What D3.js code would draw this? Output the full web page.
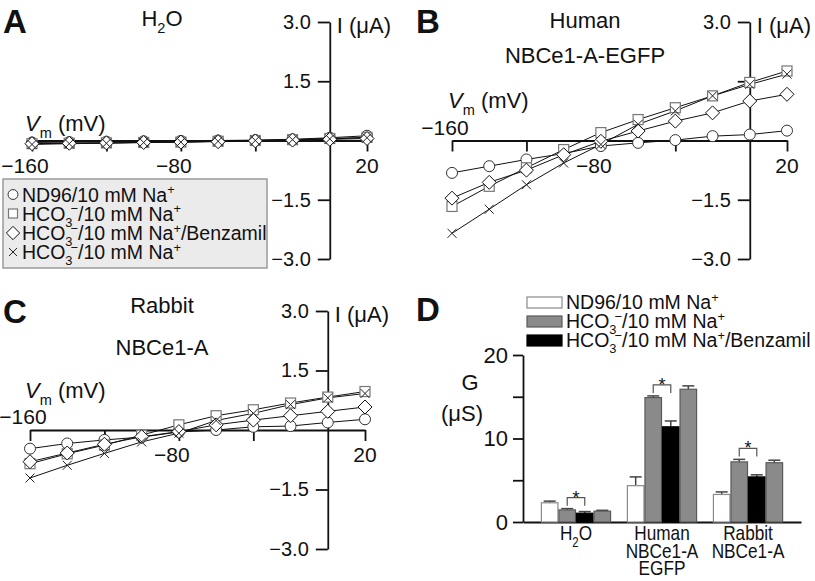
<!DOCTYPE html>
<html><head><meta charset="utf-8">
<script src="https://cdn.jsdelivr.net/npm/d3@7"></script>
<style>
html,body{margin:0;padding:0;background:#fff;}
svg text{font-family:"Liberation Sans",Arial,Helvetica,sans-serif;fill:#111;}
</style></head>
<body><svg id="c" width="815" height="581"></svg>
<script>
// ---------------- data ----------------
const voltages = [-160,-140,-120,-100,-80,-60,-40,-20,0,20];
const seriesNames = ["ND96/10 mM Na+","HCO3-/10 mM Na+","HCO3-/10 mM Na+/Benzamil","HCO3-/10 mM Na+ (washout)"];
const symbolsOrder = ["circle","square","diamond","x"];
// Panel A: H2O (µA)
const A_circle  = [-0.05,-0.04,-0.03,-0.02,-0.01,0.00,0.01,0.03,0.07,0.12];
const A_square  = [-0.08,-0.07,-0.06,-0.05,-0.04,-0.02,0.00,0.02,0.05,0.08];
const A_diamond = [-0.08,-0.07,-0.06,-0.05,-0.04,-0.03,-0.01,0.01,0.03,0.05];
const A_x       = [-0.10,-0.08,-0.07,-0.05,-0.04,-0.02,0.00,0.02,0.04,0.07];
// Panel B: Human NBCe1-A-EGFP
const B_circle  = [-0.82,-0.65,-0.48,-0.33,-0.14,-0.06,0.01,0.11,0.15,0.25];
const B_square  = [-1.67,-1.16,-0.69,-0.23,0.20,0.53,0.83,1.13,1.47,1.76];
const B_diamond = [-1.46,-1.06,-0.75,-0.36,-0.02,0.24,0.49,0.70,1.00,1.17];
const B_x       = [-2.35,-1.74,-1.12,-0.57,-0.10,0.41,0.75,1.13,1.42,1.68];
// Panel C: Rabbit NBCe1-A
const C_circle  = [-0.47,-0.34,-0.25,-0.18,-0.05,0.00,0.08,0.10,0.19,0.27];
const C_square  = [-0.85,-0.60,-0.38,-0.13,0.13,0.36,0.51,0.68,0.83,0.97];
const C_diamond = [-0.80,-0.58,-0.36,-0.17,-0.04,0.13,0.25,0.36,0.47,0.58];
const C_x       = [-1.21,-0.89,-0.59,-0.30,-0.08,0.24,0.42,0.64,0.81,0.92];
const yTicksIV = [3.0,1.5,-1.5,-3.0];
const xTicksIV = [-160,-120,-80,-40,20];
const xLabelsIV = [-160,-80,20];
// Panel D: conductance (µS)
const groups = ["H2O","Human NBCe1-A EGFP","Rabbit NBCe1-A"];
const conditions = ["ND96","HCO3","HCO3+Benzamil","HCO3 washout"];
const G_means = [[2.3,1.45,1.05,1.3],[4.35,14.9,11.4,15.9],[3.3,7.2,5.4,7.1]];
const G_errs  = [[0.2,0.15,0.2,0.1],[1.05,0.2,0.7,0.4],[0.3,0.3,0.25,0.3]];
const dTicks = [0,5,10,15,20];
const dLabels = [0,10,20];
// --------------------------------------
const svg = d3.select("#c");
const FS = 20;

function rich(textSel, segs, fs){
  let cur = 0;
  segs.forEach(s=>{
    const off = s.sub ? fs*0.32 : s.sup ? -fs*0.38 : 0;
    const ts = textSel.append("tspan").text(s.t).attr("dy", off-cur);
    if (s.sub||s.sup) ts.attr("font-size", fs*0.66);
    if (s.dx) ts.attr("dx", s.dx);
    if (s.it) ts.attr("font-style","italic");
    cur = off;
  });
  return textSel;
}
const hco = (fs)=>[{t:"HCO"},{t:"3",sub:true},{t:"\u2212",sup:true,dx:-2}];
const legSegs = (fs)=>[
  [{t:"ND96/10 mM Na"},{t:"+",sup:true}],
  [...hco(fs),{t:"/10 mM Na"},{t:"+",sup:true}],
  [...hco(fs),{t:"/10 mM Na"},{t:"+",sup:true},{t:"/Benzamil"}],
  [...hco(fs),{t:"/10 mM Na"},{t:"+",sup:true}]
];

function drawMarker(g, type, cx, cy, scale=1){
  if (type==="circle"){
    g.append("circle").attr("cx",cx).attr("cy",cy).attr("r",5.5*scale)
      .attr("fill","#fff").attr("stroke","#333").attr("stroke-width",1);
  } else if (type==="square"){
    const s=5*scale;
    g.append("rect").attr("x",cx-s).attr("y",cy-s).attr("width",2*s).attr("height",2*s)
      .attr("fill","#fff").attr("stroke","#777").attr("stroke-width",1.2);
  } else if (type==="diamond"){
    const s=7*scale;
    g.append("path").attr("d",`M${cx},${cy-s}L${cx+s},${cy}L${cx},${cy+s}L${cx-s},${cy}Z`)
      .attr("fill","#fff").attr("stroke","#111").attr("stroke-width",1);
  } else {
    const s=4.5*scale;
    g.append("path").attr("d",`M${cx-s},${cy-s}L${cx+s},${cy+s}M${cx-s},${cy+s}L${cx+s},${cy-s}`)
      .attr("fill","none").attr("stroke","#222").attr("stroke-width",1);
  }
}

function ivPanel(cfg){
  const g = svg.append("g");
  const x = d3.scaleLinear().domain([-160,20]).range(cfg.xr);
  const y = d3.scaleLinear().domain([-3,3]).range(cfg.yr);
  const ya = g.append("g").attr("transform",`translate(${x(0)},0)`)
    .call(d3.axisLeft(y).tickValues(yTicksIV).tickSize(12).tickSizeOuter(0).tickPadding(7)
      .tickFormat(d=> (cfg.hide15 && d===1.5) ? "" : d3.format(".1f")(d)));
  const xa = g.append("g").attr("transform",`translate(0,${y(0)})`)
    .call(d3.axisBottom(x).tickValues(xTicksIV).tickSize(11).tickSizeOuter(0).tickFormat(""));
  [ya,xa].forEach(a=>{
    a.attr("font-family",null).attr("font-size",FS);
    a.selectAll("path,line").attr("stroke","#111").attr("stroke-width",1.8);
    a.selectAll("text").attr("fill","#111");
  });
  xLabelsIV.forEach(v=>{
    const above = (v===-160 && cfg.labelAbove);
    g.append("text").attr("x", x(v) + (v<0?-7:0))
      .attr("y", above ? y(0)-6 : y(0)+32)
      .attr("text-anchor","middle").attr("font-size",21)
      .text(d3.format("d")(v));
  });
  g.append("text").attr("x",x(0)+7).attr("y",y(3)+11).attr("font-size",22).text("I (\u03bcA)");
  rich(g.append("text").attr("x",cfg.vm[0]).attr("y",cfg.vm[1]).attr("font-size",22),
       [{t:"V",it:true},{t:"m",sub:true},{t:" (mV)"}], 22);
  const line = d3.line().x((d,i)=>x(voltages[i])).y(d=>y(d));
  cfg.series.forEach((vals,si)=>{
    g.append("path").attr("d",line(vals)).attr("fill","none")
      .attr("stroke","#111").attr("stroke-width",1);
  });
  cfg.series.forEach((vals,si)=>{
    const mg = g.append("g");
    vals.forEach((v,i)=>drawMarker(mg, symbolsOrder[si], x(voltages[i]), y(v)));
  });
  cfg.title.forEach((segs,li)=>{
    rich(g.append("text").attr("x",cfg.tx).attr("y",cfg.ty[li]).attr("text-anchor","middle")
      .attr("font-size",22), segs, 22);
  });
  g.append("text").attr("x",cfg.letter[0]).attr("y",cfg.letter[1]).attr("font-size",33)
    .attr("font-weight","bold").text(cfg.id);
  return g;
}

ivPanel({id:"A", xr:[32,367], yr:[259,22], series:[A_circle,A_square,A_diamond,A_x],
  vm:[25,131], tx:162, ty:[26], title:[[{t:"H"},{t:"2",sub:true},{t:"O"}]], letter:[3,33]});
ivPanel({id:"B", xr:[452,787], yr:[259,22], series:[B_circle,B_square,B_diamond,B_x], hide15:true,
  labelAbove:true, vm:[448,108], tx:585, ty:[28,63], title:[[{t:"Human"}],[{t:"NBCe1-A-EGFP"}]], letter:[416,33]});
ivPanel({id:"C", xr:[30,365], yr:[549,311], series:[C_circle,C_square,C_diamond,C_x],
  labelAbove:true, vm:[25,398], tx:162, ty:[313,355], title:[[{t:"Rabbit"}],[{t:"NBCe1-A"}]], letter:[3,323]});

// Legend in panel A
{
  const lg = svg.append("g");
  lg.append("rect").attr("x",3).attr("y",179).attr("width",264).attr("height",89)
    .attr("fill","#ebebeb").attr("stroke","#9a9a9a").attr("stroke-width",1.5);
  const fs=19.5;
  const segs = legSegs(fs);
  const base = [201.5,220.5,240,259];
  segs.forEach((s,i)=>{
    drawMarker(lg, symbolsOrder[i], 13, base[i]-7, i===2?0.95:0.9);
    rich(lg.append("text").attr("x",22).attr("y",base[i]).attr("font-size",fs), s, fs);
  });
}

// Panel D
{
  const g = svg.append("g");
  const y = d3.scaleLinear().domain([0,20]).range([522,355]);
  const x0 = d3.scaleBand().domain(groups).range([523,801]).paddingInner(0.184).paddingOuter(0.208);
  const x1 = d3.scaleBand().domain(conditions).range([0,x0.bandwidth()]).padding(0);
  const fills = ["#fff","#8a8a8a","#000","#8a8a8a"];
  const strokes = ["#8a8a8a","#5a5a5a","#000","#5a5a5a"];
  const ya = g.append("g").attr("transform","translate(523,0)")
    .call(d3.axisLeft(y).tickValues(dTicks).tickSize(10).tickSizeOuter(0).tickPadding(5)
      .tickFormat(d=> dLabels.includes(d)? d : ""));
  const xa = g.append("g").attr("transform",`translate(0,${y(0)})`)
    .call(d3.axisBottom(x0).tickSize(0).tickSizeOuter(0).tickFormat(""));
  [ya,xa].forEach(a=>{
    a.attr("font-family",null).attr("font-size",22);
    a.selectAll("path,line").attr("stroke","#111").attr("stroke-width",1.8);
    a.selectAll("text").attr("fill","#111");
  });
  groups.forEach((gr,gi)=>{
    const gx = x0(gr);
    conditions.forEach((c,ci)=>{
      const bx = gx + x1(c), bw = x1.bandwidth();
      const m = G_means[gi][ci], e = G_errs[gi][ci];
      const cx = bx + bw/2;
      g.append("line").attr("x1",cx).attr("x2",cx).attr("y1",y(m)).attr("y2",y(m+e))
        .attr("stroke","#444").attr("stroke-width",1.5);
      g.append("line").attr("x1",cx-6).attr("x2",cx+6).attr("y1",y(m+e)).attr("y2",y(m+e))
        .attr("stroke","#444").attr("stroke-width",1.5);
      g.append("rect").attr("x",bx+0.5).attr("y",y(m)).attr("width",bw-1).attr("height",y(0)-y(m))
        .attr("fill",fills[ci]).attr("stroke",strokes[ci]).attr("stroke-width",1.2);
    });
    const c1 = gx + x1(conditions[1]) + x1.bandwidth()/2;
    const c2 = gx + x1(conditions[2]) + x1.bandwidth()/2;
    const top = Math.min(y(G_means[gi][1]+G_errs[gi][1]), y(G_means[gi][2]+G_errs[gi][2])) - 11;
    g.append("path").attr("d",`M${c1},${top+8}V${top}H${c2}V${top+8}`)
      .attr("fill","none").attr("stroke","#555").attr("stroke-width",1.2);
    g.append("text").attr("x",(c1+c2)/2).attr("y",top+6).attr("text-anchor","middle")
      .attr("font-size",18).text("*");
  });
  const lab = [
    [[{t:"H"},{t:"2",sub:true},{t:"O"}]],
    [[{t:"Human"}],[{t:"NBCe1-A"}],[{t:"EGFP"}]],
    [[{t:"Rabbit"}],[{t:"NBCe1-A"}]]
  ];
  groups.forEach((gr,gi)=>{
    lab[gi].forEach((segs,li)=>{
      const t = g.append("text")
        .attr("transform",`translate(${x0(gr)+x0.bandwidth()/2},${540+li*17.5}) scale(0.82,1)`)
        .attr("text-anchor","middle").attr("font-size",21);
      rich(t, segs, 21);
    });
  });
  g.append("text").attr("x",470).attr("y",390).attr("text-anchor","middle").attr("font-size",22).text("G");
  g.append("text").attr("x",462).attr("y",421).attr("text-anchor","middle").attr("font-size",22).text("(\u03bcS)");
  const fs=19.5;
  const segs = legSegs(fs).slice(0,3);
  const base=[309,328,347];
  segs.forEach((s,i)=>{
    g.append("rect").attr("x",527).attr("y",base[i]-12).attr("width",35).attr("height",11)
      .attr("fill",fills[i]).attr("stroke",strokes[i]).attr("stroke-width",1.2);
    rich(g.append("text").attr("x",566).attr("y",base[i]).attr("font-size",fs), s, fs);
  });
  g.append("text").attr("x",416).attr("y",321).attr("font-size",33).attr("font-weight","bold").text("D");
}
</script></body></html>
